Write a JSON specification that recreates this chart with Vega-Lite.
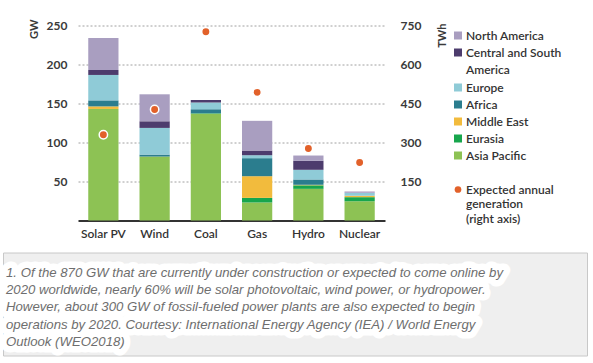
{
  "$schema": "https://vega.github.io/schema/vega-lite/v6.json",
  "background": "white",
  "padding": {"left": 2, "top": 18.5, "right": 2, "bottom": 2},
  "spacing": 12,
  "resolve": {"scale": {"color": "independent", "shape": "independent"}, "legend": {"color": "independent", "shape": "independent"}},
  "datasets": {
    "capacity": [
      {"tech": "Solar PV", "region": "Asia Pacific", "k": 1, "gw": 143},
      {"tech": "Solar PV", "region": "Eurasia", "k": 2, "gw": 0},
      {"tech": "Solar PV", "region": "Middle East", "k": 3, "gw": 3.3},
      {"tech": "Solar PV", "region": "Africa", "k": 4, "gw": 7.7},
      {"tech": "Solar PV", "region": "Europe", "k": 5, "gw": 32.6},
      {"tech": "Solar PV", "region": "Central and South America", "k": 6, "gw": 6.4},
      {"tech": "Solar PV", "region": "North America", "k": 7, "gw": 41},
      {"tech": "Wind", "region": "Asia Pacific", "k": 1, "gw": 82},
      {"tech": "Wind", "region": "Eurasia", "k": 2, "gw": 0},
      {"tech": "Wind", "region": "Middle East", "k": 3, "gw": 0},
      {"tech": "Wind", "region": "Africa", "k": 4, "gw": 2.5},
      {"tech": "Wind", "region": "Europe", "k": 5, "gw": 34.2},
      {"tech": "Wind", "region": "Central and South America", "k": 6, "gw": 8.5},
      {"tech": "Wind", "region": "North America", "k": 7, "gw": 34.6},
      {"tech": "Coal", "region": "Asia Pacific", "k": 1, "gw": 137},
      {"tech": "Coal", "region": "Eurasia", "k": 2, "gw": 0.6},
      {"tech": "Coal", "region": "Middle East", "k": 3, "gw": 0},
      {"tech": "Coal", "region": "Africa", "k": 4, "gw": 5},
      {"tech": "Coal", "region": "Europe", "k": 5, "gw": 8.6},
      {"tech": "Coal", "region": "Central and South America", "k": 6, "gw": 3.4},
      {"tech": "Coal", "region": "North America", "k": 7, "gw": 0},
      {"tech": "Gas", "region": "Asia Pacific", "k": 1, "gw": 23.1},
      {"tech": "Gas", "region": "Eurasia", "k": 2, "gw": 5.9},
      {"tech": "Gas", "region": "Middle East", "k": 3, "gw": 27.8},
      {"tech": "Gas", "region": "Africa", "k": 4, "gw": 23.1},
      {"tech": "Gas", "region": "Europe", "k": 5, "gw": 3.8},
      {"tech": "Gas", "region": "Central and South America", "k": 6, "gw": 6},
      {"tech": "Gas", "region": "North America", "k": 7, "gw": 38.1},
      {"tech": "Hydro", "region": "Asia Pacific", "k": 1, "gw": 40.6},
      {"tech": "Hydro", "region": "Eurasia", "k": 2, "gw": 4.5},
      {"tech": "Hydro", "region": "Middle East", "k": 3, "gw": 0.7},
      {"tech": "Hydro", "region": "Africa", "k": 4, "gw": 6.8},
      {"tech": "Hydro", "region": "Europe", "k": 5, "gw": 12.4},
      {"tech": "Hydro", "region": "Central and South America", "k": 6, "gw": 11.5},
      {"tech": "Hydro", "region": "North America", "k": 7, "gw": 6.8},
      {"tech": "Nuclear", "region": "Asia Pacific", "k": 1, "gw": 24.7},
      {"tech": "Nuclear", "region": "Eurasia", "k": 2, "gw": 5.2},
      {"tech": "Nuclear", "region": "Middle East", "k": 3, "gw": 1.8},
      {"tech": "Nuclear", "region": "Africa", "k": 4, "gw": 0},
      {"tech": "Nuclear", "region": "Europe", "k": 5, "gw": 3.8},
      {"tech": "Nuclear", "region": "Central and South America", "k": 6, "gw": 0},
      {"tech": "Nuclear", "region": "North America", "k": 7, "gw": 1.7}
    ],
    "generation": [
      {"tech": "Solar PV", "twh": 330},
      {"tech": "Wind", "twh": 427},
      {"tech": "Coal", "twh": 726},
      {"tech": "Gas", "twh": 493},
      {"tech": "Hydro", "twh": 277},
      {"tech": "Nuclear", "twh": 223}
    ],
    "caption": [
      {"line": 1, "text": "1. Of the 870 GW that are currently under construction or expected to come online by"},
      {"line": 2, "text": "2020 worldwide, nearly 60% will be solar photovoltaic, wind power, or hydropower."},
      {"line": 3, "text": "However, about 300 GW of fossil-fueled power plants are also expected to begin"},
      {"line": 4, "text": "operations by 2020. Courtesy: International Energy Agency (IEA) / World Energy"},
      {"line": 5, "text": "Outlook (WEO2018)"}
    ]
  },
  "vconcat": [
    {
      "spacing": 7,
      "resolve": {"scale": {"color": "independent", "shape": "independent"}, "legend": {"color": "independent", "shape": "independent"}},
      "hconcat": [
        {
          "width": 18,
          "height": 5,
          "view": {"fill": "white", "stroke": null},
          "data": {"values": []},
          "mark": {"type": "text"},
          "encoding": {}
        },
        {
          "width": 307,
          "height": 195,
          "layer": [
            {
              "data": {"name": "capacity"},
              "mark": {"type": "bar"},
              "encoding": {
                "x": {
                  "field": "tech", "type": "nominal",
                  "sort": ["Solar PV", "Wind", "Coal", "Gas", "Hydro", "Nuclear"],
                  "scale": {"paddingInner": 0.41, "paddingOuter": 0.2},
                  "axis": {"title": null, "labelAngle": 0, "domain": true, "domainColor": "#333333", "domainWidth": 2, "ticks": false, "labelPadding": 8, "labelFontSize": 12, "labelFontWeight": 600, "labelColor": "#333333", "grid": false}
                },
                "y": {
                  "field": "gw", "type": "quantitative", "stack": "zero",
                  "scale": {"domain": [0, 250], "nice": false},
                  "axis": {"orient": "left", "title": "GW", "values": [50, 100, 150, 200, 250], "domain": false, "ticks": false, "labelPadding": 11, "grid": true, "gridColor": "#a0a0a0", "gridDash": [2, 2], "gridWidth": 1, "labelFontSize": 12, "labelFontWeight": "bold", "labelColor": "#3a3a3a", "titleFontSize": 11, "titleFontWeight": "bold", "titleColor": "#3a3a3a", "titleAngle": 270, "titleAlign": "right", "titleAnchor": "end", "titleY": -6.5, "titlePadding": 7}
                },
                "color": {
                  "field": "region", "type": "nominal",
                  "scale": {
                    "domain": ["North America", "Central and South America", "Europe", "Africa", "Middle East", "Eurasia", "Asia Pacific"],
                    "range": ["#a99ec0", "#4d3c6d", "#8fcbd7", "#2b7d8e", "#f2bb3d", "#17a64d", "#8dc254"]
                  },
                  "legend": {
                    "title": null, "symbolType": "square", "symbolSize": 64, "symbolStrokeWidth": 0,
                    "labelExpr": "datum.label == 'Central and South America' ? ['Central and South', 'America'] : datum.label",
                    "orient": "right", "padding": 4, "offset": 0,
                    "encoding": {"labels": {"lineHeight": {"value": 17.5}}}
                  }
                },
                "order": {"field": "k", "type": "quantitative"}
              }
            },
            {
              "data": {"name": "generation"},
              "mark": {"type": "point", "filled": true, "fill": "#e2612a", "stroke": "white", "strokeWidth": 1.5, "size": 70, "opacity": 1},
              "encoding": {
                "x": {"field": "tech", "type": "nominal", "sort": ["Solar PV", "Wind", "Coal", "Gas", "Hydro", "Nuclear"]},
                "y": {
                  "field": "twh", "type": "quantitative",
                  "scale": {"domain": [0, 750], "nice": false},
                  "axis": {"orient": "right", "title": "TWh", "values": [150, 300, 450, 600, 750], "domain": false, "ticks": false, "grid": false, "labelPadding": 15, "labelFontSize": 12, "labelFontWeight": "bold", "labelColor": "#3a3a3a", "titleFontSize": 11, "titleFontWeight": "bold", "titleColor": "#3a3a3a", "titleAngle": 270, "titleAlign": "right", "titleBaseline": "top", "titleAnchor": "end", "titleY": -2.5, "titlePadding": 16}
                },
                "shape": {
                  "datum": "Expected annual generation (right axis)",
                  "scale": {"range": ["circle"]},
                  "legend": {
                    "title": " ", "titleFontSize": 2, "titlePadding": 4,
                    "symbolFillColor": "#e2612a", "symbolStrokeWidth": 0, "symbolSize": 45,
                    "labelExpr": "['Expected annual', 'generation', '(right axis)']",
                    "orient": "right", "padding": 4, "offset": 0,
                    "encoding": {"labels": {"lineHeight": {"value": 14.5}}}
                  }
                }
              }
            }
          ],
          "resolve": {"scale": {"y": "independent"}}
        }
      ]
    },
    {
      "width": 584,
      "height": 103,
      "view": {"fill": "#efefef", "stroke": "#c8c8c8", "strokeWidth": 1},
      "data": {"name": "caption"},
      "layer": [
        {
          "mark": {"type": "text", "align": "left", "baseline": "alphabetic", "font": "Liberation Sans", "fontStyle": "italic", "fontSize": 13.2, "fill": "white", "stroke": "white", "strokeWidth": 13, "strokeJoin": "round"},
          "encoding": {
            "x": {"value": 3},
            "y": {"field": "line", "type": "ordinal", "scale": {"type": "point", "padding": 0.975, "align": 0.72}, "axis": null},
            "text": {"field": "text"}
          }
        },
        {
          "mark": {"type": "text", "align": "left", "baseline": "alphabetic", "font": "Liberation Sans", "fontStyle": "italic", "fontSize": 13.2, "fill": "#6e6e6e"},
          "encoding": {
            "x": {"value": 3},
            "y": {"field": "line", "type": "ordinal", "scale": {"type": "point", "padding": 0.975, "align": 0.72}, "axis": null},
            "text": {"field": "text"}
          }
        }
      ]
    }
  ],
  "config": {
    "font": "Lato",
    "view": {"stroke": null},
    "axis": {"labelFont": "Lato", "titleFont": "Lato"},
    "legend": {"labelFont": "Lato", "labelFontSize": 12, "labelFontWeight": 600, "labelColor": "#333333", "rowPadding": 5, "labelLimit": 300, "labelOffset": 2}
  }
}
